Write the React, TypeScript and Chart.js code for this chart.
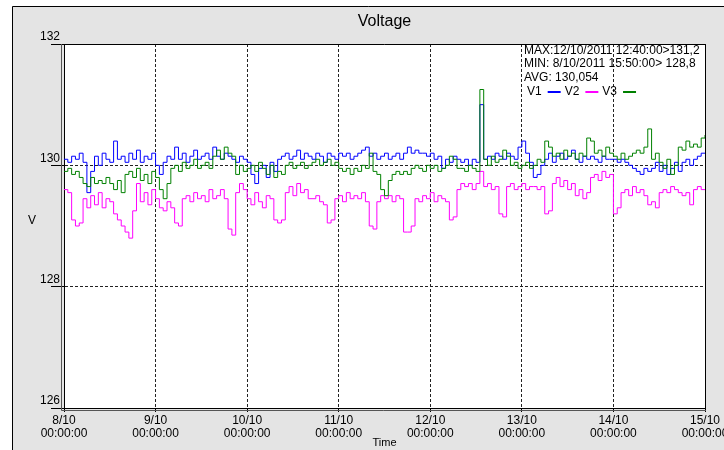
import React, { useEffect, useRef } from "react";
import { Chart, registerables } from "chart.js";

Chart.register(...registerables);

// Day tick labels (x ticks every 24 h from 8/10 00:00 to 15/10 00:00)
const DAY_LABELS = ["8/10", "9/10", "10/10", "11/10", "12/10", "13/10", "14/10", "15/10"];
const TIME_LABEL = "00:00:00";
const Y_MIN = 126;
const Y_MAX = 132;
const Y_STEP = 2;
const STATS = [
  "MAX:12/10/2011 12:40:00>131,2",
  "MIN: 8/10/2011 15:50:00> 128,8",
  "AVG: 130,054",
];
const SERIES_NAMES = ["V1", "V2", "V3"];
const SERIES_COLORS = ["#0000ff", "#ff00ff", "#008000"];

// Hourly readings (index = hours since 8/10 00:00)
const V1 = [
  130.1, 130.05, 130.15, 130.1, 130.2, 130.05,
  129.55, 129.9,
  130.15, 130.0, 130.2, 130.1, 130.05,
  130.4, 130.1,
  130.15, 130.05, 130.2, 130.1, 130.25, 130.05, 130.15, 130.1, 130.2, 130.0,
  129.85, 130.05,
  130.15, 130.1, 130.3, 130.1, 130.2, 130.05, 130.15, 130.25, 130.1,
  130.15, 130.2, 130.1, 130.3, 130.15, 130.1, 130.2, 130.15, 130.1,
  130.05, 130.15, 130.1, 130.05,
  129.85, 129.7, 129.95,
  130.0, 129.8, 130.05, 129.9, 130.1,
  130.15, 130.2, 130.1, 130.15, 130.25, 130.1, 130.2, 130.15, 130.1, 130.2, 130.15, 130.05, 130.2, 130.15, 130.1, 130.2,
  130.15, 130.2, 130.1, 130.15, 130.2, 130.25, 130.3, 130.15,
  130.2, 130.1, 130.15, 130.2, 130.1, 130.15, 130.2, 130.1,
  130.2, 130.3, 130.2, 130.25, 130.2, 130.2, 130.15, 130.2,
  130.1, 130.15, 129.95, 130.1, 130.05, 130.15, 130.1, 130.05,
  130.1, 130.0, 130.1,
  130.05, 131.0, 130.1,
  130.15, 130.1, 130.2, 130.15, 130.1, 130.2, 130.15, 130.1,
  130.3, 130.4, 130.2,
  130.05, 129.8, 129.85,
  130.0, 130.1, 130.2, 130.05, 130.15, 130.2, 130.1, 130.15, 130.25, 130.1, 130.05, 130.15, 130.1,
  130.15, 130.1, 130.05, 130.15, 130.1, 130.1,
  130.1, 130.05, 130.1, 130.05, 130.0,
  129.95, 129.9, 129.85, 129.95, 129.9, 129.95,
  130.05, 129.9, 130.0, 129.85, 129.95, 130.05, 129.9,
  130.05, 130.1, 130.0, 130.1, 130.15, 130.2, 130.2,
];

const V2 = [
  129.6, 129.55,
  129.1, 129.0, 129.05,
  129.45, 129.3, 129.5, 129.35, 129.55, 129.3, 129.45, 129.4,
  129.2, 129.1, 129.0, 128.9, 128.8,
  129.25,
  129.7, 129.4, 129.55, 129.35, 129.6, 129.45,
  129.3, 129.25, 129.4, 129.3,
  129.05, 129.0,
  129.45, 129.5, 129.4, 129.55, 129.45, 129.5, 129.4, 129.6, 129.45,
  129.5, 129.6, 129.45,
  128.95, 128.85,
  129.55, 129.7, 129.6,
  129.45, 129.35, 129.55, 129.4, 129.3, 129.5, 129.45,
  129.1, 129.05, 129.1,
  129.55, 129.65, 129.5, 129.7, 129.55, 129.6, 129.45,
  129.45, 129.5, 129.4, 129.35,
  129.05, 129.1,
  129.45, 129.5, 129.4, 129.55, 129.45, 129.5, 129.45, 129.55, 129.4,
  129.0, 128.95,
  129.4, 129.5, 129.45, 129.5, 129.4, 129.5, 129.45,
  128.9, 128.9, 129.0,
  129.45, 129.4, 129.5, 129.45, 129.55, 129.4, 129.5, 129.45, 129.4,
  129.1, 129.15,
  129.6, 129.7, 129.65, 129.7, 129.6, 129.7,
  129.9,
  129.65, 129.7, 129.6, 129.65,
  129.2, 129.15,
  129.65, 129.7, 129.6, 129.65, 129.7, 129.6, 129.65,
  129.65, 129.6, 129.65,
  129.2, 129.25,
  129.7, 129.8, 129.65, 129.75, 129.6, 129.7,
  129.5, 129.6, 129.45, 129.55,
  129.8, 129.85, 129.75, 129.9, 129.8, 129.85,
  129.2, 129.3,
  129.55, 129.6, 129.5, 129.65, 129.55, 129.6, 129.5,
  129.35, 129.4, 129.3,
  129.55, 129.6, 129.55, 129.65, 129.6, 129.55,
  129.5, 129.55,
  129.35,
  129.6, 129.65, 129.6, 129.6,
];

const V3 = [
  129.9, 129.95, 129.85, 129.9, 129.8,
  129.7, 129.65, 129.8, 129.7,
  129.75, 129.7, 129.8, 129.7,
  129.6, 129.75, 129.55,
  129.85, 129.9, 129.8, 129.95,
  129.75, 129.85, 129.7, 129.9, 129.8,
  129.6, 129.45, 129.7,
  129.95, 130.0, 129.9, 130.05, 129.95, 130.0, 130.1, 129.95, 130.0, 130.05, 129.95,
  130.15, 130.25, 130.1, 130.3, 130.2, 130.15,
  129.85, 130.0, 129.9,
  129.95, 130.0, 129.9, 130.05, 129.95, 129.85, 130.0,
  129.8, 129.9, 129.85,
  130.0, 130.05, 129.95, 130.0, 130.05, 129.95, 130.0,
  130.05, 130.1, 130.0, 130.05, 130.1, 130.0, 130.05, 129.95,
  129.9, 129.95, 129.85, 129.95, 129.9, 130.0, 129.95, 130.2, 129.9, 129.85,
  129.6, 129.5, 129.75,
  129.85, 129.9, 129.85, 129.9, 129.85, 129.95,
  130.0, 129.95, 129.9, 130.0, 129.95, 130.0, 129.9, 129.95, 130.0,
  130.15, 130.1, 129.95,
  129.95, 129.9, 130.0, 129.95, 129.9,
  131.25,
  130.1, 130.0, 130.15, 130.05, 130.1,
  130.25, 130.15,
  130.0, 130.05, 129.95, 130.0, 130.05, 129.95, 130.0,
  130.1, 130.05,
  130.4, 130.3,
  130.15, 130.2, 130.1, 130.25, 130.15, 130.2, 130.1,
  130.2, 130.15,
  130.45, 130.4,
  130.2, 130.25, 130.15, 130.3, 130.2,
  130.15, 130.1, 130.2, 130.1, 130.15,
  130.2, 130.25, 130.2, 130.3,
  130.6,
  130.1, 130.2, 130.05,
  129.95, 130.1, 129.85, 130.0,
  130.3, 130.25, 130.4, 130.3, 130.35, 130.3, 130.45, 130.5,
];

const SERIES = [V1, V2, V3];
const FONT = '"Liberation Sans", Arial, sans-serif';

const framePlugin = {
  id: "frame",
  beforeDraw(chart: any) {
    const { ctx, width, height, chartArea: a } = chart;
    ctx.save();
    ctx.fillStyle = "#ffffff";
    ctx.fillRect(0, 0, width, height);
    ctx.fillStyle = "#e4e4e4";
    ctx.fillRect(12, 6, width - 12, height - 6);
    ctx.strokeStyle = "#000";
    ctx.lineWidth = 1;
    ctx.beginPath();
    ctx.moveTo(12.5, height);
    ctx.lineTo(12.5, 6.5);
    ctx.lineTo(width, 6.5);
    ctx.stroke();
    ctx.fillStyle = "#ffffff";
    ctx.fillRect(a.left, a.top, a.right - a.left, a.bottom - a.top);
    ctx.restore();
  },
  afterDraw(chart: any) {
    const { ctx, chartArea: a } = chart;
    const L = Math.round(a.left);
    const R = Math.round(a.right);
    const T = Math.round(a.top);
    const B = Math.round(a.bottom);
    ctx.save();
    ctx.lineWidth = 1;
    ctx.strokeStyle = "#000";
    ctx.beginPath();
    ctx.moveTo(L, T + 0.5);
    ctx.lineTo(R + 0.5, T + 0.5);
    ctx.lineTo(R + 0.5, B);
    ctx.stroke();
    ctx.strokeStyle = "#555";
    ctx.beginPath();
    ctx.moveTo(L - 3 + 0.5, T);
    ctx.lineTo(L - 3 + 0.5, B + 2.5);
    ctx.lineTo(R + 1, B + 2.5);
    ctx.stroke();

    // stats text
    ctx.fillStyle = "#000";
    ctx.font = `12px ${FONT}`;
    ctx.textAlign = "left";
    ctx.textBaseline = "middle";
    const sx = R - 181;
    const ys = [51, 63.5, 78];
    STATS.forEach((s, i) => ctx.fillText(s, sx, ys[i]));

    // legend line
    let x = sx + 3;
    const ly = 92;
    chart.data.datasets.forEach((ds: any) => {
      ctx.fillStyle = "#000";
      ctx.fillText(ds.label, x, ly);
      x += ctx.measureText(ds.label).width + 6;
      ctx.strokeStyle = ds.borderColor;
      ctx.lineWidth = 2;
      ctx.beginPath();
      ctx.moveTo(x, ly);
      ctx.lineTo(x + 13, ly);
      ctx.stroke();
      x += 13 + 4;
    });

    // y axis title (upright)
    ctx.fillStyle = "#000";
    ctx.textAlign = "center";
    ctx.fillText("V", 32, (a.top + a.bottom) / 2 - 5);
    ctx.restore();
  },
};

export default function App() {
  const ref = useRef<HTMLCanvasElement | null>(null);

  useEffect(() => {
    if (!ref.current) return;
    const datasets = SERIES.map((vals, i) => ({
      label: SERIES_NAMES[i],
      data: vals.map((v, h) => ({ x: h, y: v })),
      borderColor: SERIES_COLORS[i],
      backgroundColor: SERIES_COLORS[i],
      borderWidth: 1,
      pointRadius: 0,
      stepped: true,
      tension: 0,
      fill: false,
      order: i === 2 ? 0 : i === 0 ? 1 : 2,
    }));

    const chart = new Chart(ref.current, {
      type: "line",
      data: { datasets },
      options: {
        animation: false,
        responsive: false,
        devicePixelRatio: 1,
        layout: { padding: { left: 0, right: 19, top: 0, bottom: 0 }, autoPadding: false },
        plugins: {
          legend: { display: false },
          tooltip: { enabled: false },
          title: {
            display: true,
            text: "Voltage",
            fullSize: false,
            color: "#000",
            font: { family: FONT, size: 16, weight: "normal" },
            padding: { top: 12, bottom: 12.8 },
          },
        },
        scales: {
          x: {
            type: "linear",
            min: 0,
            max: (DAY_LABELS.length - 1) * 24,
            afterFit: (s: any) => {
              s.height = 42;
              s.paddingLeft = 0;
              s.paddingRight = 0;
            },
            ticks: {
              stepSize: 24,
              autoSkip: false,
              maxRotation: 0,
              minRotation: 0,
              padding: 2,
              color: "#000",
              font: { family: FONT, size: 12, lineHeight: 1.08 },
              callback: (v: any) => [DAY_LABELS[Math.round(Number(v) / 24)], TIME_LABEL],
            },
            grid: {
              color: "#222",
              lineWidth: 1,
              tickLength: 4,
              tickColor: "#000",
              tickBorderDash: [],
            },
            border: { display: true, color: "#000", width: 1, dash: [3, 2] },
            title: {
              display: true,
              text: "Time",
              color: "#000",
              font: { family: FONT, size: 11 },
              padding: 0,
            },
          },
          y: {
            min: Y_MIN,
            max: Y_MAX,
            afterFit: (s: any) => {
              s.width = 64;
              s.paddingTop = 0;
              s.paddingBottom = 0;
            },
            ticks: {
              stepSize: Y_STEP,
              padding: -9,
              labelOffset: -7,
              color: "#000",
              font: { family: FONT, size: 12 },
            },
            grid: {
              color: "#222",
              lineWidth: 1,
              tickLength: 13,
              tickColor: "#000",
              tickBorderDash: [],
            },
            border: { display: true, color: "#000", width: 1, dash: [3, 2] },
          },
        },
      },
      plugins: [framePlugin],
    });
    return () => chart.destroy();
  }, []);

  return (
    <div style={{ position: "absolute", left: 0, top: 0, width: 724, height: 450 }}>
      <canvas ref={ref} width={724} height={450} style={{ display: "block", width: 724, height: 450 }} />
    </div>
  );
}
